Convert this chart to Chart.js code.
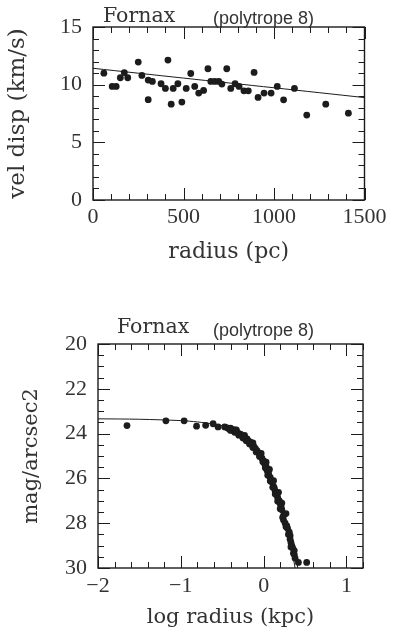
<!DOCTYPE html>
<html>
<head>
<meta charset="utf-8">
<script src="https://cdn.jsdelivr.net/npm/chart.js@4.4.1/dist/chart.umd.min.js"></script>
<style>
html, body { margin: 0; padding: 0; background: #fff; }
#wrap { position: relative; width: 393px; height: 633px; }
#velChart { position: absolute; left: 0; top: 0; }
#magChart { position: absolute; left: 0; top: 300px; }
</style>
</head>
<body>
<div id="wrap">
  <canvas id="velChart" width="393" height="280"></canvas>
  <canvas id="magChart" width="393" height="333"></canvas>
</div>
<script>
// velocity dispersion profile (top)
var velRadius = [60, 106, 128, 151, 173, 192, 250, 270, 305, 305, 328, 376, 400, 414, 432, 443, 469, 491, 515, 540, 562, 584, 611, 635, 651, 673, 695, 712, 739, 761, 785, 807, 834, 858, 890, 912, 945, 984, 1018, 1053, 1113, 1181, 1286, 1411];
var velDisp = [11.0, 9.85, 9.85, 10.6, 11.05, 10.6, 11.96, 10.8, 10.4, 8.7, 10.28, 10.08, 9.67, 12.13, 8.31, 9.67, 10.08, 8.49, 9.67, 10.97, 9.85, 9.27, 9.5, 11.38, 10.28, 10.28, 10.28, 10.05, 11.38, 9.67, 10.08, 9.85, 9.47, 9.47, 11.06, 8.89, 9.27, 9.27, 9.85, 8.69, 9.67, 7.36, 8.31, 7.53];
var velModelRadius = [0, 500, 1000, 1500];
var velModelDisp = [11.42, 10.57, 9.73, 8.88];

// surface brightness profile (bottom)
var magLogR = [-1.65, -1.18, -0.96, -0.81, -0.70, -0.61, -0.55, -0.47,
  -0.44, -0.42, -0.40, -0.38, -0.36, -0.34, -0.32, -0.30, -0.28, -0.26, -0.24, -0.22, -0.20,
  -0.18, -0.16, -0.14, -0.12, -0.10, -0.08, -0.06, -0.04, -0.02, 0.00, 0.01, 0.03, 0.04,
  0.05, 0.06, 0.08, 0.09, 0.10, 0.12, 0.13, 0.14, 0.16, 0.17, 0.19, 0.20, 0.21, 0.22,
  0.24, 0.24, 0.27, 0.26, 0.28, 0.29, 0.31, 0.32, 0.32, 0.33, 0.34, 0.35, 0.37, 0.37, 0.38,
  0.42, 0.52,
  -0.40, -0.35, -0.30, -0.25, -0.21, -0.17, -0.13, -0.09, -0.05, -0.01, 0.02, 0.05, 0.08,
  0.11, 0.14, 0.17, 0.20, 0.23, 0.27, 0.30, 0.33, 0.36,
  -0.33, -0.23, -0.13, -0.03, 0.03, 0.07, 0.12, 0.18, 0.22];
var magSB = [23.64, 23.43, 23.43, 23.67, 23.63, 23.56, 23.70, 23.70,
  23.74, 23.78, 23.76, 23.84, 23.82, 23.90, 23.93, 24.00, 24.02, 24.10, 24.12, 24.22, 24.24,
  24.34, 24.38, 24.50, 24.56, 24.66, 24.76, 24.86, 24.98, 25.10, 25.22, 25.34, 25.46, 25.62,
  25.70, 25.80, 25.96, 26.10, 26.16, 26.36, 26.44, 26.58, 26.74, 26.86, 27.00, 27.12, 27.24, 27.40,
  27.66, 27.86, 27.57, 28.00, 28.12, 28.24, 28.40, 28.56, 28.72, 28.86, 29.00, 29.10, 29.22, 29.40, 29.56,
  29.75, 29.75,
  23.86, 23.94, 24.07, 24.20, 24.32, 24.46, 24.62, 24.82, 25.02, 25.26, 25.52, 25.86, 26.12,
  26.40, 26.70, 27.02, 27.36, 27.74, 28.16, 28.50, 29.06, 29.34,
  23.84, 24.08, 24.42, 24.88, 25.28, 25.60, 26.10, 26.62, 27.10];
var magModelLogR = [-2, -1.5, -1, -0.8, -0.6, -0.4, -0.2, 0, 0.1, 0.2, 0.3, 0.38];
var magModelSB = [23.34, 23.36, 23.42, 23.48, 23.58, 23.76, 24.22, 25.10, 25.90, 26.95, 28.35, 30.0];

var ink = '#1c1c1c';
var textInk = '#333';
var serif = '"DejaVu Serif", "Liberation Serif", serif';
var digits = '"Liberation Serif", "DejaVu Serif", serif';
var sans = '"Liberation Sans", Arial, sans-serif';

function toPoints(xs, ys) {
  return xs.map(function (x, i) { return { x: x, y: ys[i] }; });
}

function marks(scale, minor, major) {
  var out = [];
  var n = Math.round((scale.max - scale.min) / minor);
  for (var i = 0; i <= n; i++) {
    var v = scale.min + i * minor;
    var r = v / major;
    out.push({ v: v, major: Math.abs(r - Math.round(r)) < 1e-6 });
  }
  return out;
}

// box with inward ticks on all four sides
var frame = {
  id: 'frame',
  afterDraw: function (chart, args, o) {
    var ctx = chart.ctx, a = chart.chartArea;
    var xs = chart.scales.x, ys = chart.scales.y;
    ctx.save();
    ctx.strokeStyle = ink;
    ctx.lineWidth = 1.4;
    ctx.strokeRect(a.left, a.top, a.right - a.left, a.bottom - a.top);
    ctx.lineWidth = 1;
    ctx.beginPath();
    marks(xs, o.xMinor, o.xMajor).forEach(function (m) {
      var p = Math.round(xs.getPixelForValue(m.v)) + 0.5, len = m.major ? o.majorLen : o.minorLen;
      ctx.moveTo(p, a.bottom); ctx.lineTo(p, a.bottom - len);
      ctx.moveTo(p, a.top); ctx.lineTo(p, a.top + len);
    });
    marks(ys, o.yMinor, o.yMajor).forEach(function (m) {
      var p = Math.round(ys.getPixelForValue(m.v)) + 0.5, len = m.major ? o.majorLen : o.minorLen;
      ctx.moveTo(a.left, p); ctx.lineTo(a.left + len, p);
      ctx.moveTo(a.right, p); ctx.lineTo(a.right - len, p);
    });
    ctx.stroke();
    ctx.restore();
  }
};

// "Fornax  (polytrope 8)" heading, two fonts on one line
var header = {
  id: 'header',
  afterDraw: function (chart, args, o) {
    var ctx = chart.ctx, a = chart.chartArea;
    ctx.save();
    ctx.fillStyle = textInk;
    ctx.textBaseline = 'alphabetic';
    ctx.textAlign = 'left';
    ctx.font = '20.5px ' + serif;
    ctx.fillText(o.name, a.left + o.nameDx, a.top - o.nameDy);
    ctx.font = '18px ' + sans;
    ctx.fillText(o.note, a.left + o.noteDx, a.top - o.noteDy);
    ctx.restore();
  }
};

function minus(v) {
  return String(v).replace('-', '\u2212');
}

function makeChart(id, cfg) {
  return new Chart(document.getElementById(id), {
    type: 'scatter',
    data: {
      datasets: [{
        label: 'data',
        data: cfg.points,
        pointRadius: 3.4,
        pointHoverRadius: 3.4,
        pointBackgroundColor: ink,
        pointBorderWidth: 0,
        showLine: false
      }, {
        label: 'model',
        data: cfg.model,
        showLine: true,
        pointRadius: 0,
        borderColor: ink,
        borderWidth: 1,
        tension: 0.3
      }]
    },
    options: {
      responsive: false,
      animation: false,
      events: [],
      layout: { padding: cfg.padding },
      plugins: {
        legend: { display: false },
        tooltip: { enabled: false },
        frame: cfg.frame,
        header: cfg.header
      },
      scales: {
        x: {
          type: 'linear',
          min: cfg.x.min, max: cfg.x.max,
          grid: { display: false, drawTicks: false },
          border: { display: false },
          ticks: {
            stepSize: cfg.x.step, includeBounds: false, padding: cfg.x.tickPad, color: textInk,
            font: { family: digits, size: 22, lineHeight: 1 },
            callback: minus
          },
          title: {
            display: true, text: cfg.x.title, color: textInk,
            font: { family: serif, size: cfg.x.titleSize, lineHeight: 1 },
            padding: { top: 0, bottom: cfg.x.titlePad }
          },
          afterFit: function (s) { s.height = cfg.x.box; }
        },
        y: {
          type: 'linear',
          min: cfg.y.min, max: cfg.y.max, reverse: cfg.y.reverse,
          grid: { display: false, drawTicks: false },
          border: { display: false },
          ticks: {
            stepSize: cfg.y.step, includeBounds: false, padding: cfg.y.tickPad, color: textInk,
            font: { family: digits, size: 22, lineHeight: 1 }
          },
          title: {
            display: true, text: cfg.y.title, color: textInk,
            font: { family: serif, size: cfg.y.titleSize, lineHeight: 1 },
            padding: { top: cfg.y.titlePad, bottom: 0 }
          },
          afterFit: function (s) { s.width = cfg.y.box; }
        }
      }
    },
    plugins: [frame, header]
  });
}

makeChart('velChart', {
  points: toPoints(velRadius, velDisp),
  model: toPoints(velModelRadius, velModelDisp),
  padding: { top: 27, right: 26, left: 0, bottom: 0 },
  frame: { xMinor: 100, xMajor: 500, yMinor: 1, yMajor: 5, minorLen: 6, majorLen: 12 },
  header: { name: 'Fornax', note: '(polytrope 8)', nameDx: 10, nameDy: 5.5, noteDx: 120, noteDy: 3 },
  x: { min: 0, max: 1500, step: 500, tickPad: 6.5, title: 'radius (pc)', titleSize: 22, titlePad: 17, box: 80 },
  y: { min: 0, max: 15, step: 5, tickPad: 11, title: 'vel disp (km/s)', titleSize: 23, titlePad: 6.5, box: 93, reverse: false }
});

makeChart('magChart', {
  points: toPoints(magLogR, magSB),
  model: toPoints(magModelLogR, magModelSB),
  padding: { top: 44, right: 30, left: 0, bottom: 0 },
  frame: { xMinor: 0.2, xMajor: 1, yMinor: 0.5, yMajor: 2, minorLen: 6, majorLen: 12 },
  header: { name: 'Fornax', note: '(polytrope 8)', nameDx: 19, nameDy: 11, noteDx: 115, noteDy: 8 },
  x: { min: -2, max: 1.2, step: 1, tickPad: 7.5, title: 'log radius (kpc)', titleSize: 21, titlePad: 4.5, box: 65 },
  y: { min: 20, max: 30, step: 2, tickPad: 11, title: 'mag/arcsec2', titleSize: 21, titlePad: 21.5, box: 98, reverse: true }
});
</script>
</body>
</html>
